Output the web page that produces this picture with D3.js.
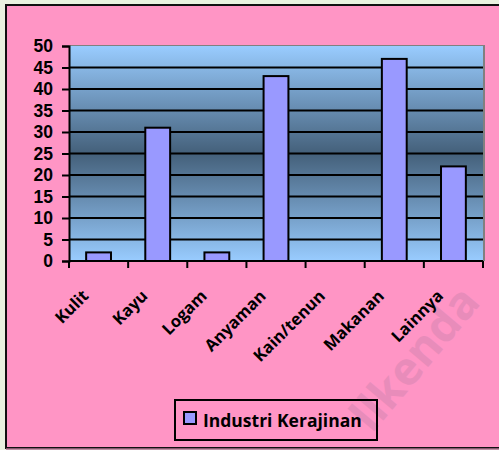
<!DOCTYPE html>
<html>
<head>
<meta charset="utf-8">
<script src="https://cdn.jsdelivr.net/npm/d3@7"></script>
<style>
  html, body { margin: 0; padding: 0; background: #eaf2e0; }
  svg { display: block; }
  text { font-family: "Open Sans", sans-serif; font-weight: bold; fill: #000; }
</style>
</head>
<body>
<svg id="chart"></svg>
<script>
// chart data
const categories = ['Kulit', 'Kayu', 'Logam', 'Anyaman', 'Kain/tenun', 'Makanan', 'Lainnya'];
const values = [2, 31, 2, 43, 0, 47, 22];
const yTicks = [0, 5, 10, 15, 20, 25, 30, 35, 40, 45, 50];
const seriesName = 'Industri Kerajinan';

const width = 499, height = 450;
const plot = {left: 69, right: 483, top: 46, bottom: 261};

const svg = d3.select('#chart').attr('width', width).attr('height', height);

// pink chart area with black frame
svg.append('rect')
    .attr('x', 6).attr('y', 5)
    .attr('width', width).attr('height', 443)
    .attr('fill', '#ff95c5')
    .attr('stroke', '#111').attr('stroke-width', 2);
svg.append('line')
    .attr('x1', 6).attr('x2', width)
    .attr('y1', 449).attr('y2', 449)
    .attr('stroke', '#b07090').attr('stroke-width', 1.5);

// watermark
svg.append('text')
    .attr('transform', 'translate(372,434) rotate(-50)')
    .style('font-size', '46px')
    .style('fill', '#e88cba')
    .text('llkenda');

// plot background gradient
const defs = svg.append('defs');
const grad = defs.append('linearGradient')
    .attr('id', 'bg').attr('x1', 0).attr('y1', 0).attr('x2', 0).attr('y2', 1);
grad.append('stop').attr('offset', '0%').attr('stop-color', '#99ccff');
grad.append('stop').attr('offset', '50%').attr('stop-color', '#44607a');
grad.append('stop').attr('offset', '100%').attr('stop-color', '#99ccff');

const x = d3.scaleBand()
    .domain(categories)
    .range([plot.left, plot.right])
    .paddingInner(0.58)
    .paddingOuter(0.29);

const xEdges = d3.scaleLinear()
    .domain([0, categories.length])
    .range([plot.left, plot.right]);

const y = d3.scaleLinear()
    .domain([0, 50])
    .range([plot.bottom, plot.top]);

// grey shadow edge on top/right
svg.append('rect')
    .attr('x', plot.left).attr('y', plot.top - 1)
    .attr('width', plot.right - plot.left + 2).attr('height', plot.bottom - plot.top + 1)
    .attr('fill', '#808080');
svg.append('rect')
    .attr('x', plot.left).attr('y', plot.top)
    .attr('width', plot.right - plot.left).attr('height', plot.bottom - plot.top)
    .attr('fill', 'url(#bg)');

// gridlines
svg.append('g')
    .selectAll('line')
    .data(yTicks.filter(d => d > 0 && d < 50))
    .enter().append('line')
    .attr('x1', plot.left).attr('x2', plot.right)
    .attr('y1', d => y(d)).attr('y2', d => y(d))
    .attr('stroke', '#000').attr('stroke-width', 2);

// bars
svg.append('g')
    .selectAll('rect')
    .data(categories.map((c, i) => ({c, v: values[i]})).filter(d => d.v > 0))
    .enter().append('rect')
    .attr('x', d => x(d.c))
    .attr('y', d => y(d.v))
    .attr('width', x.bandwidth())
    .attr('height', d => y(0) - y(d.v))
    .attr('fill', '#9999ff')
    .attr('stroke', '#000').attr('stroke-width', 2);

// y axis
const yAxis = svg.append('g')
    .attr('transform', `translate(${plot.left},0)`)
    .call(d3.axisLeft(y).tickValues(yTicks).tickSize(7).tickPadding(9));
yAxis.select('.domain').attr('stroke', '#000').attr('stroke-width', 2);
yAxis.selectAll('.tick line').attr('stroke', '#000').attr('stroke-width', 2);
yAxis.selectAll('.tick text')
    .style('font-size', '17.5px')
    .style('font-family', '"Liberation Sans", Arial, sans-serif')
    .style('font-weight', 'bold');

// x axis line and ticks at category boundaries
const xAxis = svg.append('g');
xAxis.append('line')
    .attr('x1', plot.left).attr('x2', plot.right)
    .attr('y1', plot.bottom).attr('y2', plot.bottom)
    .attr('stroke', '#000').attr('stroke-width', 2);
xAxis.selectAll('line.tick')
    .data(d3.range(categories.length + 1))
    .enter().append('line')
    .attr('class', 'tick')
    .attr('x1', d => xEdges(d)).attr('x2', d => xEdges(d))
    .attr('y1', plot.bottom).attr('y2', plot.bottom + 7)
    .attr('stroke', '#000').attr('stroke-width', 2);

// rotated category labels
xAxis.selectAll('text')
    .data(categories)
    .enter().append('text')
    .attr('transform', d => `translate(${x(d) + x.bandwidth() / 2 - 9},${plot.bottom + 36}) rotate(-45)`)
    .attr('text-anchor', 'end')
    .style('font-size', '16.5px')
    .text(d => d);

// legend
const legend = svg.append('g');
legend.append('rect')
    .attr('x', 175).attr('y', 400)
    .attr('width', 202).attr('height', 40)
    .attr('fill', 'none')
    .attr('stroke', '#000').attr('stroke-width', 2);
legend.append('rect')
    .attr('x', 184).attr('y', 412)
    .attr('width', 12).attr('height', 12)
    .attr('fill', '#9999ff')
    .attr('stroke', '#000').attr('stroke-width', 2);
legend.append('text')
    .attr('x', 203).attr('y', 427)
    .style('font-size', '17.5px')
    .text(seriesName);
</script>
</body>
</html>
